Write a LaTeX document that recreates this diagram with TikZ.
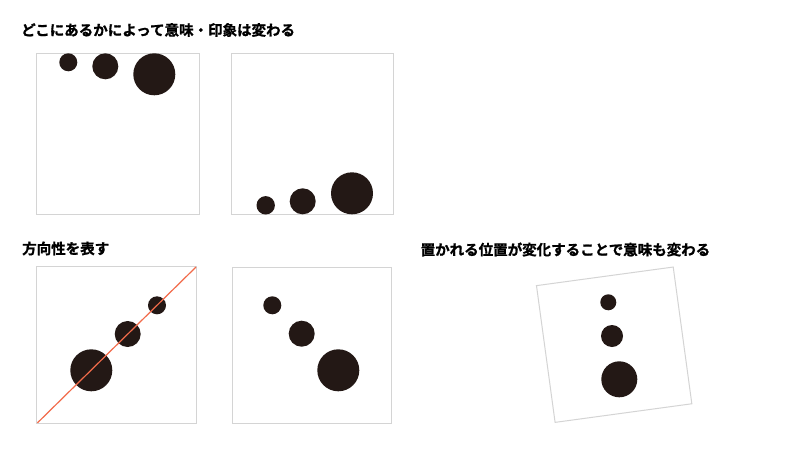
\documentclass[tikz,border=0pt]{standalone}
\usepackage{fontspec}
\newfontfamily\jpfont[FakeBold=1.2]{Noto Sans CJK JP Bold}
\definecolor{dotc}{HTML}{231815}
\definecolor{framec}{HTML}{D4D4D4}
\definecolor{linec}{HTML}{F26B4A}
\begin{document}
\begin{tikzpicture}[x=1pt,y=-1pt,
  title/.style={anchor=west,inner sep=0pt,font=\jpfont\fontsize{14.5pt}{16pt}\selectfont},
  frame/.style={draw=framec,line width=1pt},
  dot/.style={fill=dotc}]
\useasboundingbox[fill=white] (0,0) rectangle (800,450);
% titles
\node[title] (t1) at (21,30) {どこにあるかによって意味・印象は変わる};
\node[title] (t2) at (22,248.5) {方向性を表す};
\node[title] (t3) at (420.5,249.5) {置かれる位置が変化することで意味も変わる};
% box 1
\draw[frame] (36,53) rectangle (199,214);
\fill[dot] (68.3,62.3) circle (9);
\fill[dot] (105.3,66.3) circle (13);
\fill[dot] (154.3,74.3) circle (21);
% box 2
\draw[frame] (231.5,53) rectangle (393.5,214);
\fill[dot] (265.7,205.3) circle (9.2);
\fill[dot] (302.7,201.3) circle (13);
\fill[dot] (352,193.3) circle (21);
% box 3
\draw[frame] (36.7,266.7) rectangle (196.3,423.3);
\fill[dot] (157,305.3) circle (9);
\fill[dot] (127.7,334) circle (13);
\fill[dot] (91.3,370.3) circle (21);
\coordinate (la) at (37.5,422.8);
\coordinate (lb) at (196,267);
\draw[linec,line width=1.2pt] (la) -- (lb);
% box 4
\draw[frame] (232.3,267) rectangle (391.7,423);
\fill[dot] (272.3,305.3) circle (9);
\fill[dot] (301.7,333.7) circle (13);
\fill[dot] (338.3,370.3) circle (21);
% rotated box
\begin{scope}[shift={(614.15,344.7)},rotate=7.75]
\draw[frame] (-69,-69) rectangle (69,69);
\end{scope}
\fill[dot] (608.3,302.3) circle (8);
\fill[dot] (612,336) circle (11);
\fill[dot] (619.3,379.3) circle (18);
\end{tikzpicture}
\end{document}
